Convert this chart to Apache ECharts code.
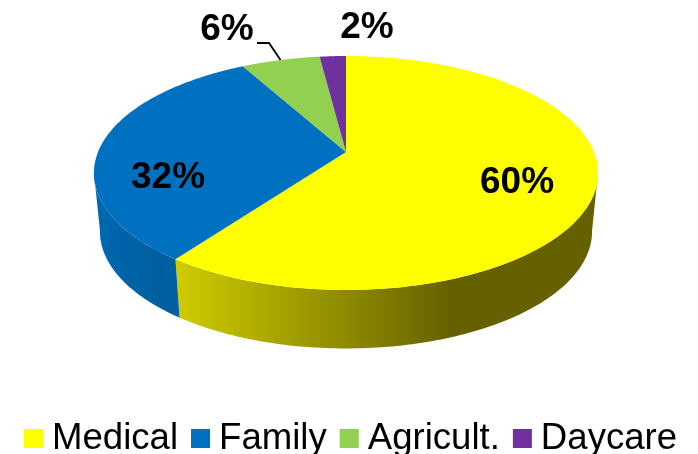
<!DOCTYPE html>
<html>
<head>
<meta charset="utf-8">
<style>
  html, body { margin: 0; padding: 0; background: #fff; }
  #chart { width: 698px; height: 454px; }
</style>
<script src="https://cdn.jsdelivr.net/npm/echarts@6.0.0/dist/echarts.min.js"></script>
</head>
<body>
<div id="chart"></div>
<script>
// Chart data, clockwise from 12 o'clock
const categories = ['Medical', 'Family', 'Agricult.', 'Daycare'];
const shares = [60, 32, 6, 2];

// Slice styling
const topColors = ['#ffff00', '#0070c0', '#92d050', '#7030a0'];
const wallStops = [
    [[0, '#d0cc00'], [0.39, '#8f8c00'], [0.65, '#666100'], [1, '#666100']],
    [[0, '#0068b0'], [0.8, '#005e9f'], [1, '#0062a4']],
    null,
    null
];
const wallSpans = [[176, 598], [94, 180], null, null];
const labelAt = [[517, 183], [168, 178], [227, 30], [367, 28]];

// Perspective of the disc: apex, radii, tilt and wall depth
const APEX_X = 346, APEX_Y = 152, RX = 248, RY = 113.2, TILT = 0.1795;
const DEPTH = 58.5, BOTTOM_SCALE = 0.976;
// Rim angles where the disc outline turns from back to front
const FRONT_FROM = 100, FRONT_TO = 260;

const total = shares.reduce((a, b) => a + b, 0);

function startAngle(i) {
    return shares.slice(0, i).reduce((a, b) => a + b, 0) / total * 360;
}

// Angle in degrees clockwise from the back of the disc -> screen point on the rim
function rim(deg) {
    const t = deg * Math.PI / 180;
    const u = Math.sin(t), v = -Math.cos(t);
    const w = 1 - TILT * v;
    return [APEX_X + RX * u / w, APEX_Y + RY * v / w];
}

function arc(from, to) {
    const pts = [];
    const n = Math.max(2, Math.ceil(to - from));
    for (let k = 0; k <= n; k++) pts.push(rim(from + (to - from) * k / n));
    return pts;
}

function lower(p) {
    return [APEX_X + (p[0] - APEX_X) * BOTTOM_SCALE, p[1] + DEPTH];
}

function renderSlice(i) {
    return function (params, api) {
        const from = startAngle(i);
        const to = from + api.value(0) / total * 360;
        const children = [];

        // Wall only where the rim faces the viewer
        const a = Math.max(from, FRONT_FROM), b = Math.min(to, FRONT_TO);
        if (b > a && wallStops[i]) {
            const edge = arc(a, b);
            const [x0, x1] = wallSpans[i];
            children.push({
                type: 'polygon',
                shape: { points: edge.concat(edge.map(lower).reverse()) },
                style: {
                    fill: new echarts.graphic.LinearGradient(x0, 0, x1, 0,
                        wallStops[i].map(s => ({ offset: s[0], color: s[1] })), true)
                }
            });
        }

        children.push({
            type: 'polygon',
            shape: { points: [[APEX_X, APEX_Y]].concat(arc(from, to)) },
            style: { fill: topColors[i] }
        });

        // The small slice gets a leader line out to its label
        if (categories[i] === 'Agricult.') {
            const end = rim((from + to) / 2);
            children.push({
                type: 'polyline',
                shape: { points: [[257, 43], [269, 43], end] },
                style: { fill: 'none', stroke: '#000', lineWidth: 1.8 }
            });
        }

        children.push({
            type: 'text',
            z2: 10,
            style: {
                x: labelAt[i][0],
                y: labelAt[i][1],
                text: api.value(0) + '%',
                fill: '#000',
                font: 'bold 37px "Liberation Sans", Arial, sans-serif',
                align: 'center',
                verticalAlign: 'middle'
            }
        });

        return { type: 'group', children: children };
    };
}

const chart = echarts.init(document.getElementById('chart'), null, { renderer: 'canvas' });

chart.setOption({
    animation: false,
    backgroundColor: '#fff',
    legend: {
        data: categories,
        left: 24,
        top: 420,
        padding: 0,
        icon: 'rect',
        itemWidth: 19,
        itemHeight: 19,
        itemGap: 13,
        selectedMode: false,
        textStyle: {
            color: '#000',
            fontFamily: '"Liberation Sans", Arial, sans-serif',
            fontSize: 36.6,
            padding: [4, 0, 0, 4]
        }
    },
    series: categories.map((name, i) => ({
        type: 'custom',
        name: name,
        coordinateSystem: 'none',
        silent: true,
        itemStyle: { color: topColors[i] },
        renderItem: renderSlice(i),
        data: [[shares[i]]]
    }))
});
</script>
</body>
</html>
